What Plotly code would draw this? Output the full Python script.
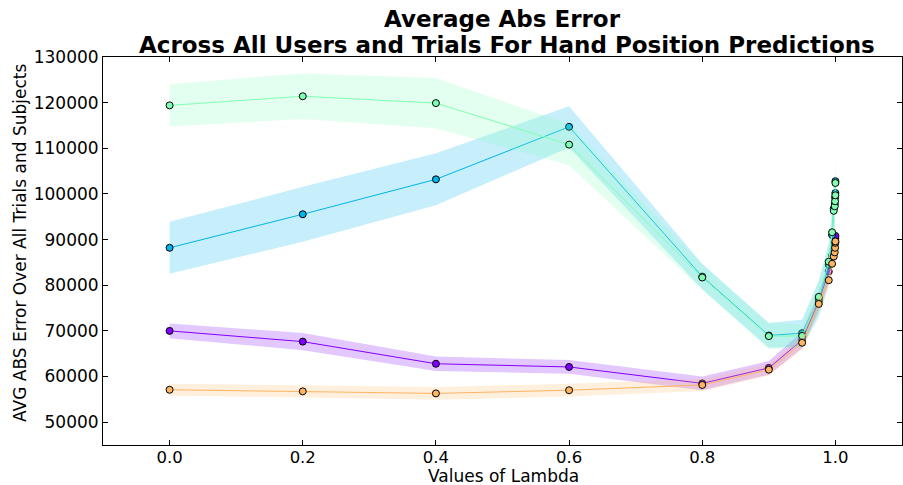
import plotly.graph_objects as go

# ---- data ----
lambdas = [0.0, 0.2, 0.4, 0.6, 0.8, 0.9, 0.95, 0.975, 0.99, 0.995, 0.9975, 0.999, 0.9995, 0.9999, 1.0]

purple_mean = [70000, 67650, 62800, 62100, 58500, 61900, 68000, 76500, 83000, 86500, 88000, 89000, 89800, 90300, 90800]
purple_std = [1600, 1900, 1600, 1500, 1500, 1500, 1800, 2000, 2200, 2200, 2300, 2300, 2300, 2300, 2300]

blue_mean = [88200, 95550, 103200, 114700, 81900, 69000, 69500, 77000, 84500, 91000, 96800, 97800, 99200, 100200, 102800]
blue_std = [5700, 6000, 5700, 4500, 2800, 2700, 3000, 4000, 4500, 5000, 5000, 5000, 5500, 5500, 6000]

green_mean = [119400, 121400, 119900, 110800, 81700, 68850, 68900, 77450, 85150, 91600, 96300, 97300, 98400, 99700, 102400]
green_std = [4650, 5000, 5500, 4500, 2700, 2900, 2500, 3500, 4000, 4500, 5000, 5000, 5500, 6000, 6500]

orange_mean = [57100, 56750, 56300, 57000, 58150, 61500, 67400, 75900, 81100, 84700, 86300, 87200, 88200, 89300, 89600]
orange_std = [1300, 1300, 1400, 1400, 1300, 1300, 1500, 1700, 1800, 1800, 1800, 1800, 1800, 1800, 1800]

series_names = ["Series 1", "Series 2", "Series 3", "Series 4"]
series_colors = ["#8000ff", "#00b4eb", "#80ffb4", "#ffb462"]
series_means = [purple_mean, blue_mean, green_mean, orange_mean]
series_stds = [purple_std, blue_std, green_std, orange_std]

yticks = [50000, 60000, 70000, 80000, 90000, 100000, 110000, 120000, 130000]
xticks = [0.0, 0.2, 0.4, 0.6, 0.8, 1.0]

title_line1 = "Average Abs Error"
title_line2 = "Across All Users and Trials For Hand Position Predictions"
x_title = "Values of Lambda"
y_title = "AVG ABS Error Over All Trials and Subjects"


def rgba(hex_color, a):
    h = hex_color.lstrip("#")
    r, g, b = int(h[0:2], 16), int(h[2:4], 16), int(h[4:6], 16)
    return f"rgba({r},{g},{b},{a})"


fig = go.Figure()

for name, color, mean, std in zip(series_names, series_colors, series_means, series_stds):
    upper = [m + s for m, s in zip(mean, std)]
    lower = [m - s for m, s in zip(mean, std)]
    fig.add_trace(go.Scatter(
        x=lambdas + lambdas[::-1],
        y=upper + lower[::-1],
        fill="toself",
        fillcolor=rgba(color, 0.22),
        line=dict(width=0, color=rgba(color, 0)),
        mode="lines",
        hoverinfo="skip",
        showlegend=False,
    ))
    fig.add_trace(go.Scatter(
        x=lambdas,
        y=mean,
        mode="lines+markers",
        name=name,
        line=dict(color=color, width=1),
        marker=dict(symbol="circle", size=7, color=color,
                    line=dict(color="black", width=1)),
        showlegend=False,
    ))

font_family = "DejaVu Sans, Liberation Sans, sans-serif"

L, R, T, B = 103, 1, 57, 40
W, H = 903, 485
PW, PH = W - L - R, H - T - B


def px_x(px):
    return (px - L) / PW


def px_y(py):
    return (H - B - py) / PH


annotations = [
    dict(text=f"<b>{title_line1}</b>", x=px_x(502), y=px_y(19), xref="paper", yref="paper",
         xanchor="center", yanchor="middle", showarrow=False,
         font=dict(family=font_family, size=23, color="black")),
    dict(text=f"<b>{title_line2}</b>", x=px_x(507), y=px_y(45), xref="paper", yref="paper",
         xanchor="center", yanchor="middle", showarrow=False,
         font=dict(family=font_family, size=23, color="black")),
    dict(text=x_title, x=px_x(503), y=px_y(475.5), xref="paper", yref="paper",
         xanchor="center", yanchor="middle", showarrow=False,
         font=dict(family=font_family, size=17, color="black")),
    dict(text=y_title, x=px_x(20), y=px_y(243), xref="paper", yref="paper",
         xanchor="center", yanchor="middle", showarrow=False, textangle=-90,
         font=dict(family=font_family, size=17, color="black")),
]

fig.update_layout(
    width=W,
    height=H,
    margin=dict(l=L, r=R, t=T, b=B, autoexpand=False),
    paper_bgcolor="white",
    plot_bgcolor="white",
    font=dict(family=font_family, size=17, color="black"),
    showlegend=False,
    annotations=annotations,
)

fig.update_xaxes(
    range=[-0.1, 1.1],
    tickvals=xticks,
    ticktext=[f"{v:.1f}" for v in xticks],
    ticks="inside",
    ticklen=5,
    tickcolor="black",
    showline=True,
    linecolor="black",
    linewidth=1,
    mirror="ticks",
    showgrid=False,
    zeroline=False,
    automargin=False,
    ticklabelstandoff=-3,
    tickfont=dict(size=16.5),
)

fig.update_yaxes(
    range=[45000, 130000],
    tickvals=yticks,
    ticktext=[str(v) for v in yticks],
    ticks="inside",
    ticklen=5,
    tickcolor="black",
    showline=True,
    linecolor="black",
    linewidth=1,
    mirror="ticks",
    showgrid=False,
    zeroline=False,
    automargin=False,
    tickfont=dict(size=17),
)

fig.write_html(
    "out.html",
    config={"displayModeBar": False},
    post_script="document.body.style.margin='0';document.body.style.padding='0';",
)
